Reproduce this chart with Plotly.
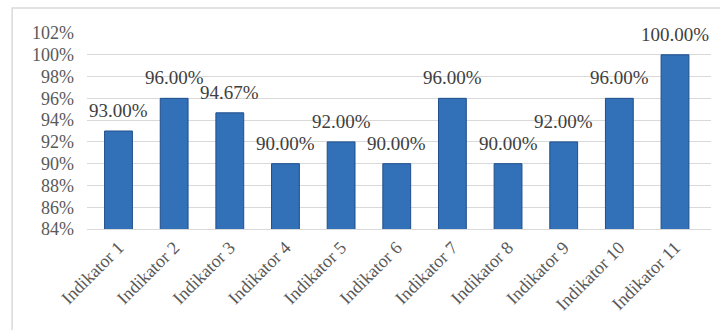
import plotly.graph_objects as go

categories = ["Indikator 1", "Indikator 2", "Indikator 3", "Indikator 4", "Indikator 5",
              "Indikator 6", "Indikator 7", "Indikator 8", "Indikator 9", "Indikator 10",
              "Indikator 11"]
values = [93.00, 96.00, 94.67, 90.00, 92.00, 90.00, 96.00, 90.00, 92.00, 96.00, 100.00]
labels = [f"{v:.2f}%" for v in values]
y_ticks = [84, 86, 88, 90, 92, 94, 96, 98, 100, 102]

FONT = "Liberation Serif"

fig = go.Figure(go.Bar(
    x=categories, y=values,
    marker=dict(color="#3270B8", line=dict(color="#1F4E8C", width=1)),
))

for c, v, t in zip(categories, values, labels):
    fig.add_annotation(x=c, y=v, text=t, showarrow=False, yanchor="bottom",
                       yshift=8, font=dict(family=FONT, size=19, color="#404040"))

fig.update_layout(
    width=720, height=330,
    margin=dict(l=87, r=9, t=33, b=101, autoexpand=False),
    paper_bgcolor="white", plot_bgcolor="white",
    bargap=0.5, showlegend=False,
    font=dict(family=FONT, size=18, color="#595959"),
    shapes=[dict(type="rect", xref="paper", yref="paper",
                 x0=-0.12, x1=1.3, y0=-0.6, y1=1.128,
                 line=dict(color="#d9d9d9", width=1.5), layer="below")],
)
fig.update_xaxes(tickangle=-45, showline=True, linecolor="#d9d9d9", ticks="",
                 automargin=False,
                 tickfont=dict(family=FONT, size=18, color="#595959"))
fig.update_yaxes(range=[84, 102], tickvals=y_ticks, ticktext=[f"{t}%" for t in y_ticks],
                 showgrid=True, gridcolor="#d9d9d9", zeroline=False, automargin=False,
                 tickfont=dict(family=FONT, size=18, color="#595959"), ticks="",
                 ticklabelstandoff=12)

fig.write_html("out.html")
